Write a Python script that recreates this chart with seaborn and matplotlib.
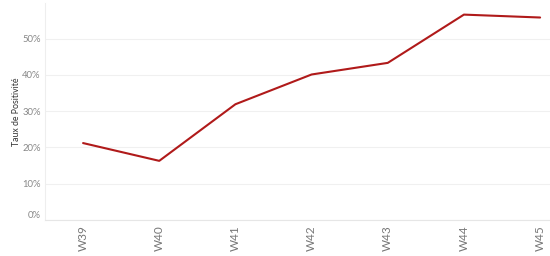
import matplotlib
matplotlib.use("Agg")
import matplotlib.pyplot as plt
import matplotlib.transforms as mtransforms
import seaborn as sns
import pandas as pd
import numpy as np
from matplotlib.ticker import FixedLocator, PercentFormatter

weeks = ["W39", "W40", "W41", "W42", "W43", "W44", "W45"]
positivity = [21.2, 16.3, 31.9, 40.1, 43.3, 56.6, 55.8]
y_ticks = [0, 10, 20, 30, 40, 50]

df = pd.DataFrame({"week": weeks, "rate": positivity})
df["pos"] = np.arange(len(weeks))

sns.set_theme(style="white")
plt.rcParams["font.family"] = ["Lato", "DejaVu Sans"]

fig = plt.figure(figsize=(5.5, 2.56), dpi=100)
ax = fig.add_axes([45/550, 36/256, 1 - 45/550, 217/256])

sns.lineplot(data=df, x="pos", y="rate", ax=ax, color="#b01a1a", linewidth=1.5)

ax.set_xlim(-0.5, 6.13)
ax.set_ylim(0, 59.8)
ax.set_yticks(y_ticks)
ax.yaxis.set_major_formatter(PercentFormatter(decimals=0))
ax.set_xticks(df["pos"])
ax.set_xticklabels(weeks, rotation=90, fontsize=8.5, color="#777777")
ax.xaxis.set_minor_locator(FixedLocator(np.arange(len(weeks) - 1) + 0.5))
ax.tick_params(axis="x", which="major", length=0, pad=4)
ax.tick_params(axis="x", which="minor", length=2, color="#e6e6e6", width=0.8)
ax.tick_params(axis="y", length=0, labelsize=6.8, labelcolor="#888888", pad=3)
fig.canvas.draw()
ylabels = ax.get_yticklabels()
if ylabels:
    ylabels[0].set_transform(ylabels[0].get_transform() +
                             mtransforms.ScaledTranslation(0, 5/100, fig.dpi_scale_trans))
ax.set_xlabel("")
ax.set_ylabel("Taux de Positivité", fontsize=6.3, color="#333333", labelpad=1)

ax.grid(axis="y", color="#f0f0f0", linewidth=0.8)
ax.set_axisbelow(True)
for s in ["top", "right"]:
    ax.spines[s].set_visible(False)
ax.spines["left"].set_color("#eeeeee")
ax.spines["left"].set_linewidth(0.8)
ax.spines["bottom"].set_color("#e6e6e6")
ax.spines["bottom"].set_linewidth(0.8)

fig.savefig("out.png", dpi=100)
